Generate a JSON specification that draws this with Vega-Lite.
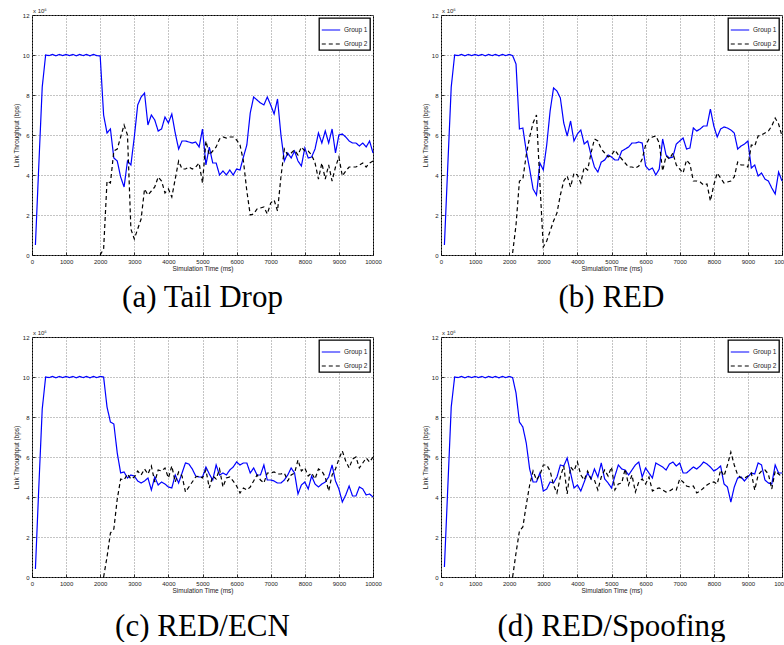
{
  "$schema": "https://vega.github.io/schema/vega-lite/v6.json",
  "padding": {"left": 12, "top": 7, "right": 0, "bottom": 0},
  "background": "white",
  "datasets": {
    "a": [
      {"t":100,"Group 1":0.5},{"t":200,"Group 1":4.5},{"t":300,"Group 1":8.4},{"t":400,"Group 1":10},{"t":500,"Group 1":9.97},{"t":600,"Group 1":10.03},{"t":700,"Group 1":9.96},{"t":800,"Group 1":10.03},{"t":900,"Group 1":9.97},{"t":1000,"Group 1":10.03},{"t":1100,"Group 1":9.97},{"t":1200,"Group 1":10.03},{"t":1300,"Group 1":9.96},{"t":1400,"Group 1":10.03},{"t":1500,"Group 1":9.97},{"t":1600,"Group 1":10.03},{"t":1700,"Group 1":9.96},{"t":1800,"Group 1":10.03},{"t":1900,"Group 1":9.97},
      {"t":2000,"Group 1":9.95,"Group 2":0},{"t":2100,"Group 1":7.0,"Group 2":0.3},{"t":2200,"Group 1":6.1,"Group 2":3.7},{"t":2300,"Group 1":6.3,"Group 2":3.6},{"t":2400,"Group 1":4.85,"Group 2":5.2},{"t":2500,"Group 1":4.7,"Group 2":5.3},{"t":2600,"Group 1":3.9,"Group 2":5.9},{"t":2700,"Group 1":3.4,"Group 2":6.5},{"t":2800,"Group 1":4.7,"Group 2":6.0},{"t":2900,"Group 1":4.5,"Group 2":1.3},
      {"t":3000,"Group 1":5.9,"Group 2":0.8},{"t":3100,"Group 1":7.5,"Group 2":1.3},{"t":3200,"Group 1":7.9,"Group 2":1.8},{"t":3300,"Group 1":8.1,"Group 2":3.3},{"t":3400,"Group 1":6.5,"Group 2":3.0},{"t":3500,"Group 1":7.0,"Group 2":3.2},{"t":3600,"Group 1":6.75,"Group 2":3.4},{"t":3700,"Group 1":6.2,"Group 2":3.9},{"t":3800,"Group 1":6.3,"Group 2":3.7},{"t":3900,"Group 1":6.9,"Group 2":3.1},
      {"t":4000,"Group 1":6.6,"Group 2":3.3},{"t":4100,"Group 1":7.05,"Group 2":2.9},{"t":4200,"Group 1":6.1,"Group 2":3.8},{"t":4300,"Group 1":5.3,"Group 2":4.7},{"t":4400,"Group 1":5.7,"Group 2":4.3},{"t":4500,"Group 1":5.7,"Group 2":4.3},{"t":4600,"Group 1":5.65,"Group 2":4.4},{"t":4700,"Group 1":5.6,"Group 2":4.3},{"t":4800,"Group 1":5.65,"Group 2":4.4},{"t":4900,"Group 1":5.4,"Group 2":4.6},
      {"t":5000,"Group 1":6.3,"Group 2":3.6},{"t":5100,"Group 1":4.5,"Group 2":5.7},{"t":5200,"Group 1":5.4,"Group 2":5.0},{"t":5300,"Group 1":4.6,"Group 2":5.2},{"t":5400,"Group 1":4.6,"Group 2":5.4},{"t":5500,"Group 1":4.0,"Group 2":5.8},{"t":5600,"Group 1":4.2,"Group 2":5.9},{"t":5700,"Group 1":4.0,"Group 2":5.85},{"t":5800,"Group 1":4.25,"Group 2":5.9},{"t":5900,"Group 1":4.0,"Group 2":5.9},
      {"t":6000,"Group 1":4.3,"Group 2":5.75},{"t":6100,"Group 1":4.25,"Group 2":5.5},{"t":6200,"Group 1":4.9,"Group 2":4.7},{"t":6300,"Group 1":5.5,"Group 2":3.2},{"t":6400,"Group 1":7.1,"Group 2":2.0},{"t":6500,"Group 1":7.9,"Group 2":2.05},{"t":6600,"Group 1":7.75,"Group 2":2.3},{"t":6700,"Group 1":7.6,"Group 2":2.35},{"t":6800,"Group 1":7.5,"Group 2":2.4},{"t":6900,"Group 1":7.9,"Group 2":2.05},
      {"t":7000,"Group 1":7.5,"Group 2":2.6},{"t":7100,"Group 1":7.05,"Group 2":2.75},{"t":7200,"Group 1":7.8,"Group 2":2.2},{"t":7300,"Group 1":6.0,"Group 2":3.9},{"t":7400,"Group 1":4.7,"Group 2":5.3},{"t":7500,"Group 1":5.1,"Group 2":5.0},{"t":7600,"Group 1":4.85,"Group 2":5.1},{"t":7700,"Group 1":5.2,"Group 2":5.25},{"t":7800,"Group 1":4.7,"Group 2":5.0},{"t":7900,"Group 1":4.45,"Group 2":5.4},
      {"t":8000,"Group 1":5.35,"Group 2":5.2},{"t":8100,"Group 1":4.85,"Group 2":5.2},{"t":8200,"Group 1":4.9,"Group 2":5.0},{"t":8300,"Group 1":5.3,"Group 2":4.6},{"t":8400,"Group 1":6.1,"Group 2":3.8},{"t":8500,"Group 1":5.6,"Group 2":4.6},{"t":8600,"Group 1":6.2,"Group 2":3.8},{"t":8700,"Group 1":5.6,"Group 2":4.5},{"t":8800,"Group 1":6.3,"Group 2":3.7},{"t":8900,"Group 1":5.1,"Group 2":4.4},
      {"t":9000,"Group 1":6.0,"Group 2":4.9},{"t":9100,"Group 1":6.05,"Group 2":3.95},{"t":9200,"Group 1":5.9,"Group 2":4.2},{"t":9300,"Group 1":5.7,"Group 2":4.4},{"t":9400,"Group 1":5.6,"Group 2":4.4},{"t":9500,"Group 1":5.6,"Group 2":4.4},{"t":9600,"Group 1":5.45,"Group 2":4.5},{"t":9700,"Group 1":5.6,"Group 2":4.6},{"t":9800,"Group 1":5.4,"Group 2":4.4},{"t":9900,"Group 1":5.7,"Group 2":4.6},{"t":10000,"Group 1":5.1,"Group 2":4.7}
    ],
    "b": [
      {"t":100,"Group 1":0.5},{"t":200,"Group 1":4.5},{"t":300,"Group 1":8.4},{"t":400,"Group 1":10},{"t":500,"Group 1":9.97},{"t":600,"Group 1":10.03},{"t":700,"Group 1":9.96},{"t":800,"Group 1":10.03},{"t":900,"Group 1":9.97},{"t":1000,"Group 1":10.03},{"t":1100,"Group 1":9.97},{"t":1200,"Group 1":10.03},{"t":1300,"Group 1":9.96},{"t":1400,"Group 1":10.03},{"t":1500,"Group 1":9.97},{"t":1600,"Group 1":10.03},{"t":1700,"Group 1":9.96},{"t":1800,"Group 1":10.03},{"t":1900,"Group 1":9.97},{"t":2000,"Group 1":10.03},
      {"t":2100,"Group 1":9.97,"Group 2":0.1},{"t":2200,"Group 1":9.55,"Group 2":1.5},{"t":2300,"Group 1":6.3,"Group 2":3.7},{"t":2400,"Group 1":6.35,"Group 2":3.8},{"t":2500,"Group 1":5.2,"Group 2":5.0},{"t":2600,"Group 1":4.3,"Group 2":5.9},{"t":2700,"Group 1":3.3,"Group 2":6.6},{"t":2800,"Group 1":3.0,"Group 2":7.0},{"t":2900,"Group 1":4.6,"Group 2":3.6},
      {"t":3000,"Group 1":4.25,"Group 2":0.4},{"t":3100,"Group 1":5.5,"Group 2":0.7},{"t":3200,"Group 1":7.2,"Group 2":1.2},{"t":3300,"Group 1":8.35,"Group 2":1.7},{"t":3400,"Group 1":8.2,"Group 2":2.1},{"t":3500,"Group 1":7.85,"Group 2":3.0},{"t":3600,"Group 1":6.6,"Group 2":3.7},{"t":3700,"Group 1":5.95,"Group 2":3.95},{"t":3800,"Group 1":6.7,"Group 2":3.4},{"t":3900,"Group 1":5.7,"Group 2":4.1},
      {"t":4000,"Group 1":6.05,"Group 2":4.0},{"t":4100,"Group 1":6.25,"Group 2":3.6},{"t":4200,"Group 1":5.55,"Group 2":4.4},{"t":4300,"Group 1":5.7,"Group 2":4.25},{"t":4400,"Group 1":5.0,"Group 2":5.1},{"t":4500,"Group 1":4.4,"Group 2":5.8},{"t":4600,"Group 1":4.15,"Group 2":5.7},{"t":4700,"Group 1":4.65,"Group 2":5.3},{"t":4800,"Group 1":4.75,"Group 2":5.1},{"t":4900,"Group 1":5.0,"Group 2":4.9},
      {"t":5000,"Group 1":4.9,"Group 2":5.0},{"t":5100,"Group 1":4.75,"Group 2":5.25},{"t":5200,"Group 1":4.75,"Group 2":5.0},{"t":5300,"Group 1":5.2,"Group 2":4.8},{"t":5400,"Group 1":5.3,"Group 2":4.6},{"t":5500,"Group 1":5.4,"Group 2":4.4},{"t":5600,"Group 1":5.6,"Group 2":4.4},{"t":5700,"Group 1":5.6,"Group 2":4.35},{"t":5800,"Group 1":5.65,"Group 2":4.45},{"t":5900,"Group 1":5.6,"Group 2":4.8},
      {"t":6000,"Group 1":4.45,"Group 2":5.5},{"t":6100,"Group 1":4.25,"Group 2":5.8},{"t":6200,"Group 1":4.35,"Group 2":5.9},{"t":6300,"Group 1":4.0,"Group 2":5.95},{"t":6400,"Group 1":4.3,"Group 2":5.6},{"t":6500,"Group 1":5.8,"Group 2":4.2},{"t":6600,"Group 1":5.0,"Group 2":4.95},{"t":6700,"Group 1":4.85,"Group 2":4.8},{"t":6800,"Group 1":4.9,"Group 2":5.1},{"t":6900,"Group 1":5.55,"Group 2":4.5},
      {"t":7000,"Group 1":5.7,"Group 2":4.3},{"t":7100,"Group 1":5.85,"Group 2":4.1},{"t":7200,"Group 1":5.3,"Group 2":4.75},{"t":7300,"Group 1":5.35,"Group 2":4.55},{"t":7400,"Group 1":6.35,"Group 2":3.7},{"t":7500,"Group 1":6.2,"Group 2":3.7},{"t":7600,"Group 1":6.3,"Group 2":3.65},{"t":7700,"Group 1":6.45,"Group 2":3.5},{"t":7800,"Group 1":6.45,"Group 2":3.55},{"t":7900,"Group 1":7.3,"Group 2":2.7},
      {"t":8000,"Group 1":6.45,"Group 2":3.5},{"t":8100,"Group 1":5.9,"Group 2":4.1},{"t":8200,"Group 1":6.3,"Group 2":3.85},{"t":8300,"Group 1":6.4,"Group 2":3.6},{"t":8400,"Group 1":6.35,"Group 2":3.65},{"t":8500,"Group 1":6.25,"Group 2":3.7},{"t":8600,"Group 1":6.1,"Group 2":3.9},{"t":8700,"Group 1":5.3,"Group 2":4.65},{"t":8800,"Group 1":5.45,"Group 2":4.5},{"t":8900,"Group 1":5.55,"Group 2":4.5},
      {"t":9000,"Group 1":5.7,"Group 2":4.4},{"t":9100,"Group 1":4.35,"Group 2":5.5},{"t":9200,"Group 1":4.5,"Group 2":5.45},{"t":9300,"Group 1":3.95,"Group 2":5.95},{"t":9400,"Group 1":4.1,"Group 2":6.0},{"t":9500,"Group 1":3.8,"Group 2":6.1},{"t":9600,"Group 1":3.7,"Group 2":6.2},{"t":9700,"Group 1":3.35,"Group 2":6.45},{"t":9800,"Group 1":3.05,"Group 2":6.85},{"t":9900,"Group 1":4.15,"Group 2":6.55},{"t":10000,"Group 1":3.7,"Group 2":5.95}
    ],
    "c": [
      {"t":100,"Group 1":0.4},{"t":200,"Group 1":4.5},{"t":300,"Group 1":8.4},{"t":400,"Group 1":10},{"t":500,"Group 1":9.97},{"t":600,"Group 1":10.03},{"t":700,"Group 1":9.96},{"t":800,"Group 1":10.03},{"t":900,"Group 1":9.97},{"t":1000,"Group 1":10.03},{"t":1100,"Group 1":9.97},{"t":1200,"Group 1":10.03},{"t":1300,"Group 1":9.96},{"t":1400,"Group 1":10.03},{"t":1500,"Group 1":9.97},{"t":1600,"Group 1":10.03},{"t":1700,"Group 1":9.96},{"t":1800,"Group 1":10.03},{"t":1900,"Group 1":9.97},{"t":2000,"Group 1":10.03},
      {"t":2100,"Group 1":10.0,"Group 2":0},{"t":2200,"Group 1":8.5,"Group 2":1.0},{"t":2300,"Group 1":7.75,"Group 2":2.2},{"t":2400,"Group 1":7.65,"Group 2":2.4},{"t":2500,"Group 1":6.2,"Group 2":3.9},{"t":2600,"Group 1":5.2,"Group 2":4.9},{"t":2700,"Group 1":5.25,"Group 2":4.85},{"t":2800,"Group 1":4.95,"Group 2":5.15},{"t":2900,"Group 1":5.1,"Group 2":4.9},
      {"t":3000,"Group 1":5.05,"Group 2":5.0},{"t":3100,"Group 1":4.8,"Group 2":5.3},{"t":3200,"Group 1":4.7,"Group 2":5.1},{"t":3300,"Group 1":4.8,"Group 2":5.4},{"t":3400,"Group 1":4.95,"Group 2":5.15},{"t":3500,"Group 1":4.35,"Group 2":5.55},{"t":3600,"Group 1":5.0,"Group 2":4.75},{"t":3700,"Group 1":4.6,"Group 2":5.35},{"t":3800,"Group 1":4.75,"Group 2":5.3},{"t":3900,"Group 1":4.65,"Group 2":5.45},
      {"t":4000,"Group 1":4.5,"Group 2":4.95},{"t":4100,"Group 1":4.45,"Group 2":5.55},{"t":4200,"Group 1":5.1,"Group 2":4.75},{"t":4300,"Group 1":4.7,"Group 2":5.25},{"t":4400,"Group 1":5.2,"Group 2":5.05},{"t":4500,"Group 1":5.7,"Group 2":4.25},{"t":4600,"Group 1":5.65,"Group 2":4.5},{"t":4700,"Group 1":5.4,"Group 2":4.75},{"t":4800,"Group 1":5.05,"Group 2":5.0},{"t":4900,"Group 1":5.0,"Group 2":5.05},
      {"t":5000,"Group 1":5.0,"Group 2":4.95},{"t":5100,"Group 1":5.5,"Group 2":5.35},{"t":5200,"Group 1":5.15,"Group 2":4.45},{"t":5300,"Group 1":4.85,"Group 2":5.05},{"t":5400,"Group 1":5.6,"Group 2":4.9},{"t":5500,"Group 1":5.1,"Group 2":5.4},{"t":5600,"Group 1":5.2,"Group 2":4.5},{"t":5700,"Group 1":5.1,"Group 2":4.95},{"t":5800,"Group 1":5.35,"Group 2":5.0},{"t":5900,"Group 1":5.5,"Group 2":4.8},
      {"t":6000,"Group 1":5.75,"Group 2":4.55},{"t":6100,"Group 1":5.6,"Group 2":4.2},{"t":6200,"Group 1":5.7,"Group 2":4.45},{"t":6300,"Group 1":5.7,"Group 2":4.35},{"t":6400,"Group 1":5.2,"Group 2":4.5},{"t":6500,"Group 1":5.45,"Group 2":4.8},{"t":6600,"Group 1":5.1,"Group 2":5.1},{"t":6700,"Group 1":5.1,"Group 2":4.85},{"t":6800,"Group 1":5.6,"Group 2":4.7},{"t":6900,"Group 1":4.85,"Group 2":5.2},
      {"t":7000,"Group 1":4.85,"Group 2":5.2},{"t":7100,"Group 1":4.8,"Group 2":5.25},{"t":7200,"Group 1":4.7,"Group 2":5.15},{"t":7300,"Group 1":4.7,"Group 2":5.15},{"t":7400,"Group 1":4.85,"Group 2":5.2},{"t":7500,"Group 1":5.1,"Group 2":4.8},{"t":7600,"Group 1":5.45,"Group 2":5.1},{"t":7700,"Group 1":5.2,"Group 2":5.2},{"t":7800,"Group 1":4.15,"Group 2":5.85},{"t":7900,"Group 1":4.6,"Group 2":5.3},
      {"t":8000,"Group 1":4.75,"Group 2":5.45},{"t":8100,"Group 1":4.4,"Group 2":5.05},{"t":8200,"Group 1":5.05,"Group 2":5.2},{"t":8300,"Group 1":4.65,"Group 2":4.9},{"t":8400,"Group 1":4.5,"Group 2":5.4},{"t":8500,"Group 1":4.65,"Group 2":5.3},{"t":8600,"Group 1":4.75,"Group 2":5.0},{"t":8700,"Group 1":5.0,"Group 2":4.3},{"t":8800,"Group 1":5.6,"Group 2":5.1},{"t":8900,"Group 1":4.8,"Group 2":5.4},
      {"t":9000,"Group 1":4.4,"Group 2":5.9},{"t":9100,"Group 1":3.75,"Group 2":6.3},{"t":9200,"Group 1":4.1,"Group 2":5.8},{"t":9300,"Group 1":4.55,"Group 2":5.45},{"t":9400,"Group 1":4.05,"Group 2":5.9},{"t":9500,"Group 1":4.05,"Group 2":6.0},{"t":9600,"Group 1":4.5,"Group 2":5.45},{"t":9700,"Group 1":4.4,"Group 2":5.7},{"t":9800,"Group 1":4.1,"Group 2":5.95},{"t":9900,"Group 1":4.15,"Group 2":5.75},{"t":10000,"Group 1":4.0,"Group 2":6.0}
    ],
    "d": [
      {"t":100,"Group 1":0.5},{"t":200,"Group 1":4.5},{"t":300,"Group 1":8.5},{"t":400,"Group 1":10},{"t":500,"Group 1":9.97},{"t":600,"Group 1":10.03},{"t":700,"Group 1":9.96},{"t":800,"Group 1":10.03},{"t":900,"Group 1":9.97},{"t":1000,"Group 1":10.03},{"t":1100,"Group 1":9.97},{"t":1200,"Group 1":10.03},{"t":1300,"Group 1":9.96},{"t":1400,"Group 1":10.03},{"t":1500,"Group 1":9.97},{"t":1600,"Group 1":10.03},{"t":1700,"Group 1":9.96},{"t":1800,"Group 1":10.03},{"t":1900,"Group 1":9.97},{"t":2000,"Group 1":10.03},
      {"t":2100,"Group 1":9.97,"Group 2":0},{"t":2200,"Group 1":9.2,"Group 2":1.2},{"t":2300,"Group 1":7.75,"Group 2":2.3},{"t":2400,"Group 1":7.5,"Group 2":2.5},{"t":2500,"Group 1":6.7,"Group 2":3.6},{"t":2600,"Group 1":5.4,"Group 2":4.6},{"t":2700,"Group 1":4.75,"Group 2":5.3},{"t":2800,"Group 1":4.75,"Group 2":4.85},{"t":2900,"Group 1":5.2,"Group 2":5.1},
      {"t":3000,"Group 1":4.3,"Group 2":5.6},{"t":3100,"Group 1":4.4,"Group 2":5.6},{"t":3200,"Group 1":4.75,"Group 2":5.3},{"t":3300,"Group 1":4.7,"Group 2":4.6},{"t":3400,"Group 1":5.0,"Group 2":4.2},{"t":3500,"Group 1":5.6,"Group 2":5.0},{"t":3600,"Group 1":5.55,"Group 2":5.55},{"t":3700,"Group 1":5.95,"Group 2":4.15},{"t":3800,"Group 1":5.2,"Group 2":5.5},{"t":3900,"Group 1":4.45,"Group 2":5.3},
      {"t":4000,"Group 1":4.6,"Group 2":5.75},{"t":4100,"Group 1":4.3,"Group 2":5.1},{"t":4200,"Group 1":4.75,"Group 2":4.85},{"t":4300,"Group 1":5.2,"Group 2":5.3},{"t":4400,"Group 1":4.9,"Group 2":4.9},{"t":4500,"Group 1":5.4,"Group 2":4.85},{"t":4600,"Group 1":5.0,"Group 2":4.35},{"t":4700,"Group 1":5.7,"Group 2":5.0},{"t":4800,"Group 1":4.9,"Group 2":5.35},{"t":4900,"Group 1":4.7,"Group 2":5.05},
      {"t":5000,"Group 1":4.45,"Group 2":5.5},{"t":5100,"Group 1":5.05,"Group 2":4.35},{"t":5200,"Group 1":5.6,"Group 2":4.65},{"t":5300,"Group 1":5.4,"Group 2":4.7},{"t":5400,"Group 1":5.35,"Group 2":5.4},{"t":5500,"Group 1":5.1,"Group 2":4.6},{"t":5600,"Group 1":5.35,"Group 2":5.1},{"t":5700,"Group 1":5.6,"Group 2":4.25},{"t":5800,"Group 1":5.75,"Group 2":4.75},{"t":5900,"Group 1":5.0,"Group 2":4.9},
      {"t":6000,"Group 1":5.45,"Group 2":4.65},{"t":6100,"Group 1":5.2,"Group 2":5.0},{"t":6200,"Group 1":4.95,"Group 2":4.3},{"t":6300,"Group 1":5.7,"Group 2":4.4},{"t":6400,"Group 1":5.6,"Group 2":4.45},{"t":6500,"Group 1":5.5,"Group 2":4.35},{"t":6600,"Group 1":5.35,"Group 2":4.25},{"t":6700,"Group 1":5.65,"Group 2":4.3},{"t":6800,"Group 1":5.75,"Group 2":4.4},{"t":6900,"Group 1":5.55,"Group 2":4.35},
      {"t":7000,"Group 1":5.7,"Group 2":4.9},{"t":7100,"Group 1":5.2,"Group 2":4.75},{"t":7200,"Group 1":5.2,"Group 2":4.55},{"t":7300,"Group 1":5.35,"Group 2":4.5},{"t":7400,"Group 1":5.5,"Group 2":4.55},{"t":7500,"Group 1":5.4,"Group 2":4.2},{"t":7600,"Group 1":5.55,"Group 2":4.3},{"t":7700,"Group 1":5.75,"Group 2":4.45},{"t":7800,"Group 1":5.65,"Group 2":4.6},{"t":7900,"Group 1":5.5,"Group 2":4.7},
      {"t":8000,"Group 1":5.3,"Group 2":4.75},{"t":8100,"Group 1":5.4,"Group 2":4.65},{"t":8200,"Group 1":5.55,"Group 2":5.35},{"t":8300,"Group 1":4.65,"Group 2":5.05},{"t":8400,"Group 1":4.5,"Group 2":5.6},{"t":8500,"Group 1":3.75,"Group 2":6.25},{"t":8600,"Group 1":4.5,"Group 2":5.6},{"t":8700,"Group 1":4.95,"Group 2":5.1},{"t":8800,"Group 1":5.0,"Group 2":4.95},{"t":8900,"Group 1":4.8,"Group 2":4.95},
      {"t":9000,"Group 1":5.0,"Group 2":5.05},{"t":9100,"Group 1":5.2,"Group 2":5.2},{"t":9200,"Group 1":5.15,"Group 2":4.35},{"t":9300,"Group 1":5.7,"Group 2":5.1},{"t":9400,"Group 1":5.6,"Group 2":5.3},{"t":9500,"Group 1":4.85,"Group 2":5.35},{"t":9600,"Group 1":4.7,"Group 2":5.15},{"t":9700,"Group 1":4.65,"Group 2":4.4},{"t":9800,"Group 1":5.6,"Group 2":5.3},{"t":9900,"Group 1":5.2,"Group 2":5.15},{"t":10000,"Group 1":5.2,"Group 2":5.0}
    ]
  },
  "columns": 2,
  "bounds": "flush",
  "spacing": {"row": 82, "column": 68},
  "concat": [
    {
      "width": 341, "height": 240,
      "title": {"text": "(a) Tail Drop", "offset": 11},
      "data": {"name": "a"},
      "layer": [
        {
          "transform": [{"fold": ["Group 1", "Group 2"], "as": ["g", "v"]}],
          "mark": {"type": "line", "strokeWidth": 1.2},
          "encoding": {
            "x": {"field": "t", "type": "quantitative", "scale": {"domain": [0, 10000], "nice": false}, "axis": {"values": [0,1000,2000,3000,4000,5000,6000,7000,8000,9000,10000], "tickCount": 11, "format": "d", "labelOverlap": false, "labelFlush": false, "title": "Simulation Time (ms)"}},
            "y": {"field": "v", "type": "quantitative", "scale": {"domain": [0, 12], "nice": false}, "axis": {"values": [0,2,4,6,8,10,12], "tickCount": 7, "format": "d", "labelOverlap": false, "labelFlush": false, "title": "Link Throughput (bps)"}},
            "color": {"field": "g", "type": "nominal", "scale": {"domain": ["Group 1", "Group 2"], "range": ["#0000ff", "#000000"]}, "legend": {"title": null}},
            "strokeDash": {"field": "g", "type": "nominal", "scale": {"domain": ["Group 1", "Group 2"], "range": [[1, 0], [4, 3]]}, "legend": {"title": null}}
          }
        },
        {
          "data": {"values": [{"lab": "x 10⁶"}]},
          "mark": {"type": "text", "align": "left", "baseline": "bottom", "dx": 1, "dy": -1, "fontSize": 6, "font": "Liberation Sans", "color": "#222"},
          "encoding": {
            "x": {"datum": 0, "type": "quantitative", "axis": {"values": [0,1000,2000,3000,4000,5000,6000,7000,8000,9000,10000], "tickCount": 11, "format": "d", "labelOverlap": false, "labelFlush": false, "title": "Simulation Time (ms)"}},
            "y": {"datum": 12, "type": "quantitative", "axis": {"values": [0,2,4,6,8,10,12], "tickCount": 7, "format": "d", "labelOverlap": false, "labelFlush": false, "title": "Link Throughput (bps)"}},
            "text": {"field": "lab"}
          }
        }
      ]
    },
    {
      "width": 341, "height": 240,
      "title": {"text": "(b) RED", "offset": 11},
      "data": {"name": "b"},
      "layer": [
        {
          "transform": [{"fold": ["Group 1", "Group 2"], "as": ["g", "v"]}],
          "mark": {"type": "line", "strokeWidth": 1.2},
          "encoding": {
            "x": {"field": "t", "type": "quantitative", "scale": {"domain": [0, 10000], "nice": false}, "axis": {"values": [0,1000,2000,3000,4000,5000,6000,7000,8000,9000,10000], "tickCount": 11, "format": "d", "labelOverlap": false, "labelFlush": false, "title": "Simulation Time (ms)"}},
            "y": {"field": "v", "type": "quantitative", "scale": {"domain": [0, 12], "nice": false}, "axis": {"values": [0,2,4,6,8,10,12], "tickCount": 7, "format": "d", "labelOverlap": false, "labelFlush": false, "title": "Link Throughput (bps)"}},
            "color": {"field": "g", "type": "nominal", "scale": {"domain": ["Group 1", "Group 2"], "range": ["#0000ff", "#000000"]}, "legend": {"title": null}},
            "strokeDash": {"field": "g", "type": "nominal", "scale": {"domain": ["Group 1", "Group 2"], "range": [[1, 0], [4, 3]]}, "legend": {"title": null}}
          }
        },
        {
          "data": {"values": [{"lab": "x 10⁶"}]},
          "mark": {"type": "text", "align": "left", "baseline": "bottom", "dx": 1, "dy": -1, "fontSize": 6, "font": "Liberation Sans", "color": "#222"},
          "encoding": {
            "x": {"datum": 0, "type": "quantitative", "axis": {"values": [0,1000,2000,3000,4000,5000,6000,7000,8000,9000,10000], "tickCount": 11, "format": "d", "labelOverlap": false, "labelFlush": false, "title": "Simulation Time (ms)"}},
            "y": {"datum": 12, "type": "quantitative", "axis": {"values": [0,2,4,6,8,10,12], "tickCount": 7, "format": "d", "labelOverlap": false, "labelFlush": false, "title": "Link Throughput (bps)"}},
            "text": {"field": "lab"}
          }
        }
      ]
    },
    {
      "width": 341, "height": 240,
      "title": {"text": "(c) RED/ECN", "offset": 18},
      "data": {"name": "c"},
      "layer": [
        {
          "transform": [{"fold": ["Group 1", "Group 2"], "as": ["g", "v"]}],
          "mark": {"type": "line", "strokeWidth": 1.2},
          "encoding": {
            "x": {"field": "t", "type": "quantitative", "scale": {"domain": [0, 10000], "nice": false}, "axis": {"values": [0,1000,2000,3000,4000,5000,6000,7000,8000,9000,10000], "tickCount": 11, "format": "d", "labelOverlap": false, "labelFlush": false, "title": "Simulation Time (ms)"}},
            "y": {"field": "v", "type": "quantitative", "scale": {"domain": [0, 12], "nice": false}, "axis": {"values": [0,2,4,6,8,10,12], "tickCount": 7, "format": "d", "labelOverlap": false, "labelFlush": false, "title": "Link Throughput (bps)"}},
            "color": {"field": "g", "type": "nominal", "scale": {"domain": ["Group 1", "Group 2"], "range": ["#0000ff", "#000000"]}, "legend": {"title": null}},
            "strokeDash": {"field": "g", "type": "nominal", "scale": {"domain": ["Group 1", "Group 2"], "range": [[1, 0], [4, 3]]}, "legend": {"title": null}}
          }
        },
        {
          "data": {"values": [{"lab": "x 10⁶"}]},
          "mark": {"type": "text", "align": "left", "baseline": "bottom", "dx": 1, "dy": -1, "fontSize": 6, "font": "Liberation Sans", "color": "#222"},
          "encoding": {
            "x": {"datum": 0, "type": "quantitative", "axis": {"values": [0,1000,2000,3000,4000,5000,6000,7000,8000,9000,10000], "tickCount": 11, "format": "d", "labelOverlap": false, "labelFlush": false, "title": "Simulation Time (ms)"}},
            "y": {"datum": 12, "type": "quantitative", "axis": {"values": [0,2,4,6,8,10,12], "tickCount": 7, "format": "d", "labelOverlap": false, "labelFlush": false, "title": "Link Throughput (bps)"}},
            "text": {"field": "lab"}
          }
        }
      ]
    },
    {
      "width": 341, "height": 240,
      "title": {"text": "(d) RED/Spoofing", "offset": 18},
      "data": {"name": "d"},
      "layer": [
        {
          "transform": [{"fold": ["Group 1", "Group 2"], "as": ["g", "v"]}],
          "mark": {"type": "line", "strokeWidth": 1.2},
          "encoding": {
            "x": {"field": "t", "type": "quantitative", "scale": {"domain": [0, 10000], "nice": false}, "axis": {"values": [0,1000,2000,3000,4000,5000,6000,7000,8000,9000,10000], "tickCount": 11, "format": "d", "labelOverlap": false, "labelFlush": false, "title": "Simulation Time (ms)"}},
            "y": {"field": "v", "type": "quantitative", "scale": {"domain": [0, 12], "nice": false}, "axis": {"values": [0,2,4,6,8,10,12], "tickCount": 7, "format": "d", "labelOverlap": false, "labelFlush": false, "title": "Link Throughput (bps)"}},
            "color": {"field": "g", "type": "nominal", "scale": {"domain": ["Group 1", "Group 2"], "range": ["#0000ff", "#000000"]}, "legend": {"title": null}},
            "strokeDash": {"field": "g", "type": "nominal", "scale": {"domain": ["Group 1", "Group 2"], "range": [[1, 0], [4, 3]]}, "legend": {"title": null}}
          }
        },
        {
          "data": {"values": [{"lab": "x 10⁶"}]},
          "mark": {"type": "text", "align": "left", "baseline": "bottom", "dx": 1, "dy": -1, "fontSize": 6, "font": "Liberation Sans", "color": "#222"},
          "encoding": {
            "x": {"datum": 0, "type": "quantitative", "axis": {"values": [0,1000,2000,3000,4000,5000,6000,7000,8000,9000,10000], "tickCount": 11, "format": "d", "labelOverlap": false, "labelFlush": false, "title": "Simulation Time (ms)"}},
            "y": {"datum": 12, "type": "quantitative", "axis": {"values": [0,2,4,6,8,10,12], "tickCount": 7, "format": "d", "labelOverlap": false, "labelFlush": false, "title": "Link Throughput (bps)"}},
            "text": {"field": "lab"}
          }
        }
      ]
    }
  ],
  "resolve": {"scale": {"color": "independent", "strokeDash": "independent"}, "legend": {"color": "independent", "strokeDash": "independent"}},
  "config": {
    "font": "Liberation Sans",
    "view": {"stroke": "#000", "strokeWidth": 1},
    "axis": {"labelFont": "Liberation Sans", "labelFontSize": 6, "labelColor": "#222", "titleFont": "Liberation Sans", "titleFontSize": 6.5, "titleFontWeight": "normal", "titleColor": "#222", "grid": true, "gridColor": "#888", "gridDash": [1, 2], "domain": false, "ticks": true, "tickSize": -3, "tickColor": "#000", "tickWidth": 0.8, "labelPadding": 6, "labelOverlap": false},
    "axisX": {"titlePadding": 1},
    "axisY": {"titlePadding": 3},
    "legend": {"orient": "top-right", "offset": 3, "strokeColor": "#000", "strokeWidth": 1.3, "fillColor": "#fff", "padding": 2, "labelFont": "Liberation Sans", "labelFontSize": 6.5, "labelColor": "#222", "symbolType": "stroke", "symbolSize": 340, "symbolStrokeWidth": 1.2, "rowPadding": 0, "labelOffset": 3},
    "title": {"orient": "bottom", "font": "Liberation Serif", "fontSize": 31, "fontWeight": "normal", "color": "#000"}
  }
}
